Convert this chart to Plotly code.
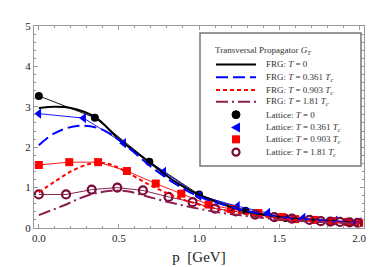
import plotly.graph_objects as go

# ---------------- data ----------------
# FRG curves
frg0_x = [0, 0.1, 0.2, 0.35, 0.5, 0.7, 0.85, 1.0, 1.25, 1.5, 1.75, 2.0]
frg0_y = [2.97, 3.0, 2.97, 2.75, 2.2, 1.6, 1.15, 0.82, 0.46, 0.27, 0.18, 0.13]

frg1_x = [0, 0.1, 0.25, 0.4, 0.55, 0.7, 0.85, 1.0, 1.25, 1.5, 1.75, 2.0]
frg1_y = [2.05, 2.35, 2.53, 2.43, 2.02, 1.52, 1.1, 0.78, 0.47, 0.27, 0.18, 0.13]

frg2_x = [0, 0.1, 0.2, 0.3, 0.37, 0.45, 0.55, 0.7, 0.85, 1.0, 1.25, 1.5, 1.75, 2.0]
frg2_y = [0.88, 1.15, 1.4, 1.57, 1.62, 1.57, 1.38, 1.05, 0.78, 0.58, 0.37, 0.24, 0.16, 0.12]

frg3_x = [0, 0.15, 0.3, 0.45, 0.55, 0.66, 0.8, 0.96, 1.1, 1.25, 1.5, 1.75, 2.0]
frg3_y = [0.32, 0.55, 0.8, 0.92, 0.91, 0.8, 0.65, 0.51, 0.4, 0.32, 0.21, 0.15, 0.11]

# Lattice data
lat0_x = [0, 0.35, 0.69, 1.0, 1.29, 1.54]
lat0_y = [3.27, 2.73, 1.64, 0.83, 0.43, 0.25]

lat1_x = [0, 0.28, 0.53, 0.78, 1.0, 1.24, 1.43, 1.65, 1.85, 2.0]
lat1_y = [2.83, 2.72, 2.1, 1.39, 0.8, 0.54, 0.37, 0.25, 0.18, 0.14]

lat2_x = [0, 0.19, 0.37, 0.55, 0.73, 0.89, 1.06, 1.2, 1.37, 1.52, 1.6, 1.72, 1.83, 1.93, 2.0]
lat2_y = [1.56, 1.63, 1.63, 1.41, 1.10, 0.85, 0.58, 0.47, 0.37, 0.27, 0.22, 0.2, 0.17, 0.15, 0.13]

lat3_x = [0, 0.17, 0.33, 0.49, 0.65, 0.81, 0.96, 1.1, 1.23, 1.35, 1.47, 1.58, 1.69, 1.76, 1.82, 1.88, 1.94, 1.99]
lat3_y = [0.83, 0.83, 0.95, 1.0, 0.93, 0.77, 0.64, 0.48, 0.41, 0.33, 0.27, 0.23, 0.2, 0.17, 0.16, 0.15, 0.14, 0.13]

legend_title = "Transversal Propagator <i>G<sub>T</sub></i>"
frg_labels = ["FRG: <i>T</i> = 0", "FRG: <i>T</i> = 0.361 <i>T<sub>c</sub></i>",
              "FRG: <i>T</i> = 0.903 <i>T<sub>c</sub></i>", "FRG: <i>T</i> = 1.81 <i>T<sub>c</sub></i>"]
lat_labels = ["Lattice: <i>T</i> = 0", "Lattice: <i>T</i> = 0.361 <i>T<sub>c</sub></i>",
              "Lattice: <i>T</i> = 0.903 <i>T<sub>c</sub></i>", "Lattice: <i>T</i> = 1.81 <i>T<sub>c</sub></i>"]
x_ticks = [0.0, 0.5, 1.0, 1.5, 2.0]
x_ticklabels = ["0.0", "0.5", "1.0", "1.5", "2.0"]
y_ticks = [0, 1, 2, 3, 4, 5]

# ---------------- styles ----------------
BLACK = "#000000"
BLUE = "#0000ff"
RED = "#ff0000"
PURPLE_LINE = "#8a2050"
PURPLE_MK = "#7a0a3a"
FONT = "Liberation Serif"

W, H = 374, 267
L, R, T, B = 26, 18, 15, 47
PW, PH = W - L - R, H - T - B

def px(x):
    return (x - L) / PW

def py(y):
    return (H - B - y) / PH

fig = go.Figure()

frg = [
    (frg0_x, frg0_y, BLACK, "solid"),
    (frg1_x, frg1_y, BLUE, "12px,5px"),
    (frg2_x, frg2_y, RED, "4px,3px"),
    (frg3_x, frg3_y, PURPLE_LINE, "12px,4px,2px,4px"),
]
lat = [
    (lat0_x, lat0_y, BLACK, "circle", 8, BLACK),
    (lat1_x, lat1_y, BLUE, "triangle-left", 9, BLUE),
    (lat2_x, lat2_y, RED, "square", 8, RED),
    (lat3_x, lat3_y, PURPLE_MK, "circle-open", 8, PURPLE_MK),
]

for (xs, ys, col, sym, sz, lc), lab in zip(lat, lat_labels):
    mk = dict(symbol=sym, size=sz, color=col)
    if sym == "circle-open":
        mk["line"] = dict(width=2.2, color=col)
    fig.add_trace(go.Scatter(x=xs, y=ys, mode="lines+markers", name=lab,
                             line=dict(color=lc, width=0.9), marker=mk,
                             showlegend=False))

for (xs, ys, col, dash), lab in zip(frg, frg_labels):
    fig.add_trace(go.Scatter(x=xs, y=ys, mode="lines", name=lab,
                             line=dict(color=col, width=2, dash=dash, shape="spline", smoothing=1.0),
                             showlegend=False))

# ---------------- manual legend ----------------
shapes = []
annotations = []
shapes.append(dict(type="rect", xref="paper", yref="paper",
                   x0=px(192), x1=px(353), y0=py(157), y1=py(22),
                   line=dict(color="#777777", width=1.5), fillcolor="white", layer="above"))
annotations.append(dict(text=legend_title, xref="paper", yref="paper", x=px(255), y=py(40),
                        showarrow=False, xanchor="center", yanchor="middle",
                        font=dict(family=FONT, size=9, color="#333333")))
entry_y = [54, 67, 80, 92, 105, 118, 130, 143]
for i, ((xs, ys, col, dash), lab) in enumerate(zip(frg, frg_labels)):
    yy = py(entry_y[i])
    d = {"solid": "solid", }.get(dash, dash)
    shapes.append(dict(type="line", xref="paper", yref="paper", x0=px(208), x1=px(248), y0=yy, y1=yy,
                       line=dict(color=col, width=2, dash=d), layer="above"))
    annotations.append(dict(text=lab, xref="paper", yref="paper", x=px(256), y=yy, showarrow=False,
                            xanchor="left", yanchor="middle", font=dict(family=FONT, size=9, color="#333333")))
for j, ((xs, ys, col, sym, sz, lc), lab) in enumerate(zip(lat, lat_labels)):
    yy = py(entry_y[4 + j])
    cx = px(228)
    if sym == "circle":
        shapes.append(dict(type="circle", xref="paper", yref="paper", xsizemode="pixel", ysizemode="pixel",
                           xanchor=cx, yanchor=yy, x0=-4, x1=4, y0=-4, y1=4,
                           fillcolor=col, line=dict(color=col, width=1), layer="above"))
    elif sym == "circle-open":
        shapes.append(dict(type="circle", xref="paper", yref="paper", xsizemode="pixel", ysizemode="pixel",
                           xanchor=cx, yanchor=yy, x0=-3.5, x1=3.5, y0=-3.5, y1=3.5,
                           fillcolor="white", line=dict(color=col, width=2.2), layer="above"))
    elif sym == "square":
        shapes.append(dict(type="rect", xref="paper", yref="paper", xsizemode="pixel", ysizemode="pixel",
                           xanchor=cx, yanchor=yy, x0=-4, x1=4, y0=-4, y1=4,
                           fillcolor=col, line=dict(color=col, width=0), layer="above"))
    else:
        shapes.append(dict(type="path", xref="paper", yref="paper", xsizemode="pixel", ysizemode="pixel",
                           xanchor=cx, yanchor=yy, path="M -5 0 L 4 -5 L 4 5 Z",
                           fillcolor=col, line=dict(color=col, width=0), layer="above"))
    annotations.append(dict(text=lab, xref="paper", yref="paper", x=px(256), y=yy, showarrow=False,
                            xanchor="left", yanchor="middle", font=dict(family=FONT, size=9, color="#333333")))

axis_common = dict(showline=True, linecolor="#999999", linewidth=1, mirror="allticks",
                   ticks="inside", ticklen=4, tickcolor="#999999", showgrid=False, zeroline=False,
                   tickfont=dict(family=FONT, size=11, color="#222222"))

fig.update_layout(
    width=W, height=H,
    margin=dict(l=L, r=R, t=T, b=B),
    paper_bgcolor="white", plot_bgcolor="white",
    showlegend=False,
    shapes=shapes, annotations=annotations,
    xaxis=dict(range=[-0.03, 2.03], tickvals=x_ticks, ticktext=x_ticklabels,
               minor=dict(dtick=0.1, tick0=0, ticks="inside", ticklen=2, tickcolor="#999999"),
               title=dict(text="p  [GeV]", font=dict(family=FONT, size=15, color="#222222"), standoff=8),
               **axis_common),
    yaxis=dict(range=[0, 5], tickvals=y_ticks,
               minor=dict(dtick=0.2, tick0=0, ticks="inside", ticklen=2, tickcolor="#999999"),
               **axis_common),
)

fig.write_html("out.html")
